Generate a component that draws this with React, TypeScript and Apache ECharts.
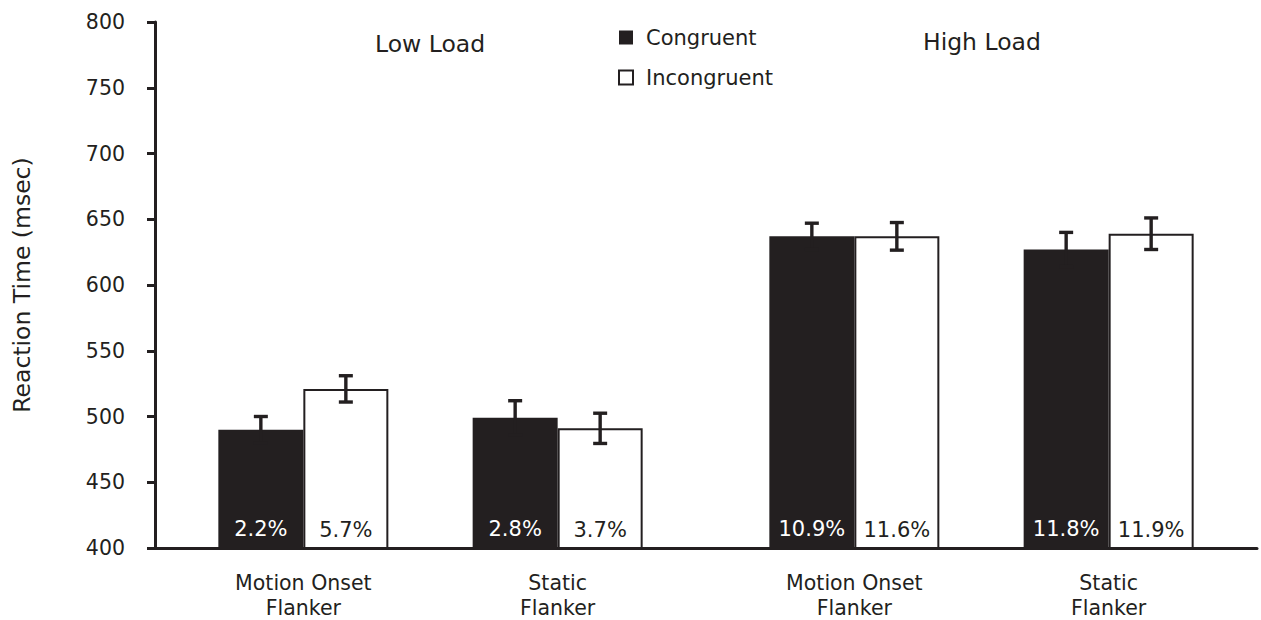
import React, { useEffect, useRef } from "react";
import * as echarts from "echarts";

// Conditions (flanker type) grouped by load
const conditions = ["Motion Onset\nFlanker", "Static\nFlanker", "Motion Onset\nFlanker", "Static\nFlanker"];
const loadLabels = ["Low Load", "High Load"];
const seriesNames = ["Congruent", "Incongruent"];

// Mean reaction times (msec) and standard errors
const congruentRT = [490, 499, 637, 627];
const incongruentRT = [521, 491, 637, 639];
const congruentSE = [10, 13, 10, 13];
const incongruentSE = [10, 11.5, 10.5, 12];

// Error rates printed at the foot of each bar
const congruentErr = ["2.2%", "2.8%", "10.9%", "11.8%"];
const incongruentErr = ["5.7%", "3.7%", "11.6%", "11.9%"];

// y-axis range
const yMin = 400;
const yMax = 800;
const yStep = 50;

// Category slots along the x axis: each condition sits in its own slot,
// with empty slots giving the spacing between the two load groups.
const SLOT_COUNT = 26;
const conditionSlots = [3, 9, 16, 22];

const INK = "#231f20";
const FONT = "DejaVu Sans";
const BAR_W = 85;

export default function App() {
  const ref = useRef<HTMLDivElement>(null);

  useEffect(() => {
    if (!ref.current) return;
    const chart = echarts.init(ref.current, null, { renderer: "svg" });

    const slotLabels = Array.from({ length: SLOT_COUNT }, (_, s) => {
      const k = conditionSlots.indexOf(s);
      return k >= 0 ? conditions[k] : "";
    });
    const spread = (vals: number[]) =>
      Array.from({ length: SLOT_COUNT }, (_, s) => {
        const k = conditionSlots.indexOf(s);
        return k >= 0 ? vals[k] : null;
      });
    const labelFor = (texts: string[]) => (p: any) => {
      const k = conditionSlots.indexOf(p.dataIndex);
      return k >= 0 ? texts[k] : "";
    };

    const errData = (means: number[], ses: number[], side: number) =>
      conditionSlots.map((slot, k) => [slot, means[k], ses[k], side]);

    const errorRender = (params: any, api: any) => {
      const slot = api.value(0);
      const mean = api.value(1);
      const se = api.value(2);
      const side = api.value(3);
      const top = api.coord([slot, mean + se]);
      const bot = api.coord([slot, mean - se]);
      const x = top[0] + side * (BAR_W / 2);
      const cap = 7;
      const style = { stroke: INK, lineWidth: 3.4 };
      return {
        type: "group",
        children: [
          { type: "line", shape: { x1: x, y1: top[1], x2: x, y2: bot[1] }, style },
          { type: "line", shape: { x1: x - cap, y1: top[1], x2: x + cap, y2: top[1] }, style },
          { type: "line", shape: { x1: x - cap, y1: bot[1], x2: x + cap, y2: bot[1] }, style },
        ],
      };
    };

    const option: any = {
      animation: false,
      backgroundColor: "#ffffff",
      textStyle: { fontFamily: FONT, color: INK },
      grid: { left: 155, right: 4, top: 22, bottom: 69, containLabel: false },
      legend: {
        orient: "vertical",
        left: 613,
        top: 22,
        itemWidth: 14,
        itemHeight: 14,
        itemGap: 19,
        icon: "rect",
        selectedMode: false,
        data: seriesNames,
        textStyle: { fontFamily: FONT, fontSize: 21, color: INK, padding: [0, 0, 0, 8] },
      },
      xAxis: {
        type: "category",
        data: slotLabels,
        axisLine: { lineStyle: { color: INK, width: 3 } },
        axisTick: { show: false },
        axisLabel: {
          interval: 0,
          margin: 22,
          fontFamily: FONT,
          fontSize: 20.5,
          lineHeight: 25,
          color: INK,
        },
      },
      yAxis: {
        type: "value",
        min: yMin,
        max: yMax,
        interval: yStep,
        name: "Reaction Time (msec)",
        nameLocation: "middle",
        nameGap: 121,
        nameTextStyle: { fontFamily: FONT, fontSize: 23.5, color: INK },
        axisLine: { show: true, lineStyle: { color: INK, width: 3 } },
        axisTick: { show: true, length: 8, lineStyle: { color: INK, width: 3 } },
        axisLabel: { margin: 30, fontFamily: FONT, fontSize: 20.5, color: INK },
        splitLine: { show: false },
      },
      graphic: [
        {
          type: "text",
          left: 375,
          top: 32,
          style: { text: loadLabels[0], fontFamily: FONT, fontSize: 23.5, fill: INK },
        },
        {
          type: "text",
          left: 923,
          top: 30,
          style: { text: loadLabels[1], fontFamily: FONT, fontSize: 23.5, fill: INK },
        },
      ],
      series: [
        {
          name: seriesNames[0],
          type: "bar",
          barWidth: BAR_W,
          barGap: "0%",
          data: spread(congruentRT),
          itemStyle: { color: INK, borderColor: INK, borderWidth: 0 },
          label: {
            show: true,
            position: "insideBottom",
            distance: 9,
            formatter: labelFor(congruentErr),
            fontFamily: FONT,
            fontSize: 21,
            color: "#ffffff",
          },
          z: 2,
        },
        {
          name: seriesNames[1],
          type: "bar",
          barWidth: BAR_W,
          barGap: "0%",
          data: spread(incongruentRT),
          itemStyle: { color: "#ffffff", borderColor: INK, borderWidth: 2 },
          label: {
            show: true,
            position: "insideBottom",
            distance: 9,
            formatter: labelFor(incongruentErr),
            fontFamily: FONT,
            fontSize: 21,
            color: INK,
          },
          z: 2,
        },
        {
          type: "custom",
          name: "congruent-se",
          renderItem: errorRender,
          data: errData(congruentRT, congruentSE, -1),
          z: 5,
          silent: true,
        },
        {
          type: "custom",
          name: "incongruent-se",
          renderItem: errorRender,
          data: errData(incongruentRT, incongruentSE, 1),
          z: 5,
          silent: true,
        },
      ],
    };

    chart.setOption(option);
    return () => chart.dispose();
  }, []);

  return (
    <div
      ref={ref}
      style={{ position: "fixed", left: 0, top: 0, width: 1261, height: 620, background: "#fff" }}
    />
  );
}
